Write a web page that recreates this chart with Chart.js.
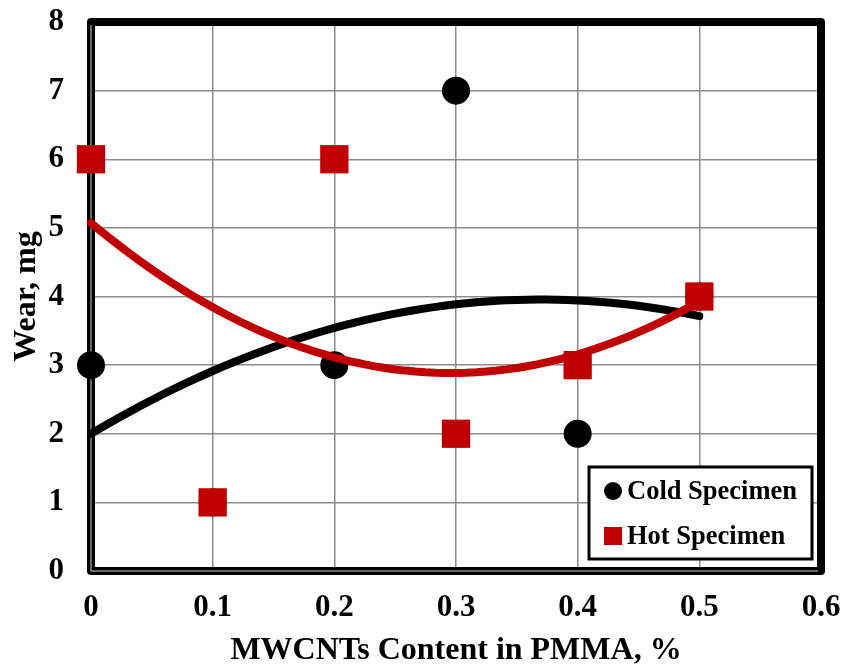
<html>
<head>
    <script src="https://cdn.jsdelivr.net/npm/chart.js"></script>
    <title>Wear vs MWCNTs content</title>
    <style>
        body { margin: 0; background: #fff; }
        #box { width: 846px; height: 671px; }
    </style>
</head>
<body>
    <div id="box">
        <canvas id="c1"></canvas>
    </div>
    <script>
        "use strict";

        // MWCNTs content (%) and measured wear (mg)
        const contents = [0, 0.1, 0.2, 0.3, 0.4, 0.5];
        const coldWear = [3, 1, 3, 7, 2, 4];
        const hotWear = [6, 1, 6, 2, 3, 4];

        const xTickLabels = ["0", "0.1", "0.2", "0.3", "0.4", "0.5", "0.6"];
        const yTickLabels = ["0", "1", "2", "3", "4", "5", "6", "7", "8"];

        const seriesNames = ["Cold Specimen", "Hot Specimen"];

        const serif = "'Liberation Serif', 'Times New Roman', serif";
        const red = "#c00000";

        // 2nd order polynomial trend line (least squares), like the spreadsheet one
        function polyFit2(xs, ys) {
            let s = [0, 0, 0, 0, 0];
            let t = [0, 0, 0];
            for (let i = 0; i < xs.length; i++) {
                let p = 1;
                for (let k = 0; k < 5; k++) {
                    s[k] += p;
                    if (k < 3) t[k] += p * ys[i];
                    p *= xs[i];
                }
            }
            let m = [
                [s[0], s[1], s[2], t[0]],
                [s[1], s[2], s[3], t[1]],
                [s[2], s[3], s[4], t[2]]
            ];
            for (let c = 0; c < 3; c++) {
                for (let r = c + 1; r < 3; r++) {
                    let f = m[r][c] / m[c][c];
                    for (let k = c; k < 4; k++) m[r][k] -= f * m[c][k];
                }
            }
            let coef = [0, 0, 0];
            for (let r = 2; r >= 0; r--) {
                let v = m[r][3];
                for (let k = r + 1; k < 3; k++) v -= m[r][k] * coef[k];
                coef[r] = v / m[r][r];
            }
            return coef;
        }

        function trendPoints(xs, ys) {
            let c = polyFit2(xs, ys);
            let x0 = Math.min(...xs);
            let x1 = Math.max(...xs);
            let pts = [];
            for (let i = 0; i <= 60; i++) {
                let x = x0 + (x1 - x0) * i / 60;
                pts.push({ x: x, y: c[0] + c[1] * x + c[2] * x * x });
            }
            return pts;
        }

        let coldPts = contents.map((x, i) => ({ x: x, y: coldWear[i] }));
        let hotPts = contents.map((x, i) => ({ x: x, y: hotWear[i] }));

        // thick frame round the plot area
        const frame = {
            id: "frame",
            beforeDatasetsDraw(chart) {
                let a = chart.chartArea;
                let ctx = chart.ctx;
                ctx.save();
                ctx.strokeStyle = "#000";
                ctx.lineWidth = 8;
                ctx.lineJoin = "round";
                ctx.strokeRect(a.left, a.top, a.right - a.left, a.bottom - a.top);
                ctx.strokeStyle = "#8a8a8a";
                ctx.lineWidth = 1.5;
                ctx.beginPath();
                ctx.moveTo(a.left, a.top + 3);
                ctx.lineTo(a.left, a.bottom);
                ctx.lineTo(a.right - 3, a.bottom);
                ctx.stroke();
                ctx.restore();
            }
        };

        // boxed legend in the lower right corner
        const boxLegend = {
            id: "boxLegend",
            afterDatasetsDraw(chart) {
                let a = chart.chartArea;
                let ctx = chart.ctx;
                let x = a.right - 232;
                let y = a.bottom - 104;
                ctx.save();
                ctx.fillStyle = "#fff";
                ctx.fillRect(x, y, 223, 92);
                ctx.strokeStyle = "#000";
                ctx.lineWidth = 3;
                ctx.strokeRect(x, y, 223, 92);

                ctx.fillStyle = "#000";
                ctx.beginPath();
                ctx.arc(x + 24, y + 24, 9, 0, Math.PI * 2);
                ctx.fill();
                ctx.fillStyle = red;
                ctx.fillRect(x + 15, y + 60, 18, 18);

                ctx.fillStyle = "#000";
                ctx.font = "bold 26.5px " + serif;
                ctx.textBaseline = "middle";
                ctx.fillText(seriesNames[0], x + 38, y + 25);
                ctx.fillText(seriesNames[1], x + 38, y + 70);
                ctx.restore();
            }
        };

        let params = {
            type: "scatter",
            data: {
                datasets: [
                    {
                        label: seriesNames[0],
                        data: coldPts,
                        pointStyle: "circle",
                        pointRadius: 14,
                        backgroundColor: "#000",
                        borderColor: "#000",
                        borderWidth: 0,
                        clip: false,
                        order: 4
                    },
                    {
                        label: "Cold trend",
                        type: "line",
                        data: trendPoints(contents, coldWear),
                        borderColor: "#000",
                        borderWidth: 8,
                        borderCapStyle: "round",
                        pointRadius: 0,
                        tension: 0,
                        fill: false,
                        clip: false,
                        order: 3
                    },
                    {
                        label: "Hot trend",
                        type: "line",
                        data: trendPoints(contents, hotWear),
                        borderColor: red,
                        borderWidth: 8,
                        borderCapStyle: "round",
                        pointRadius: 0,
                        tension: 0,
                        fill: false,
                        clip: false,
                        order: 2
                    },
                    {
                        label: seriesNames[1],
                        data: hotPts,
                        pointStyle: "rect",
                        pointRadius: 20,
                        backgroundColor: red,
                        borderColor: red,
                        borderWidth: 0,
                        clip: false,
                        order: 1
                    }
                ]
            },
            options: {
                responsive: true,
                maintainAspectRatio: false,
                animation: false,
                layout: { padding: { top: 22, right: 25, left: 0, bottom: 0 } },
                plugins: {
                    legend: { display: false },
                    tooltip: { enabled: false }
                },
                scales: {
                    x: {
                        type: "linear",
                        min: 0,
                        max: 0.6,
                        afterFit: (s) => {
                            s.height = 100;
                            s.paddingLeft = 0;
                            s.paddingRight = 0;
                        },
                        border: { display: false },
                        grid: { color: "#8c8c8c", lineWidth: 1.5, drawTicks: false },
                        ticks: {
                            stepSize: 0.1,
                            padding: 18,
                            color: "#000",
                            font: { family: serif, size: 31, weight: "bold" },
                            callback: (v, i) => xTickLabels[i]
                        },
                        title: {
                            display: true,
                            text: "MWCNTs Content in PMMA, %",
                            color: "#000",
                            font: { family: serif, size: 32, weight: "bold" },
                            padding: { top: 0, bottom: 1 }
                        }
                    },
                    y: {
                        min: 0,
                        max: 8,
                        afterFit: (s) => {
                            s.width = 91;
                            s.paddingTop = 0;
                            s.paddingBottom = 0;
                        },
                        border: { display: false },
                        grid: { color: "#8c8c8c", lineWidth: 1.5, drawTicks: false },
                        ticks: {
                            stepSize: 1,
                            padding: 27,
                            color: "#000",
                            font: { family: serif, size: 31, weight: "bold" },
                            callback: (v, i) => yTickLabels[i]
                        },
                        title: {
                            display: true,
                            text: "Wear, mg",
                            color: "#000",
                            font: { family: serif, size: 32, weight: "bold" },
                            padding: { top: 8, bottom: 0 }
                        }
                    }
                }
            },
            plugins: [frame, boxLegend]
        };

        let chart1 = new Chart(document.querySelector("#c1"), params);
    </script>
</body>
</html>
